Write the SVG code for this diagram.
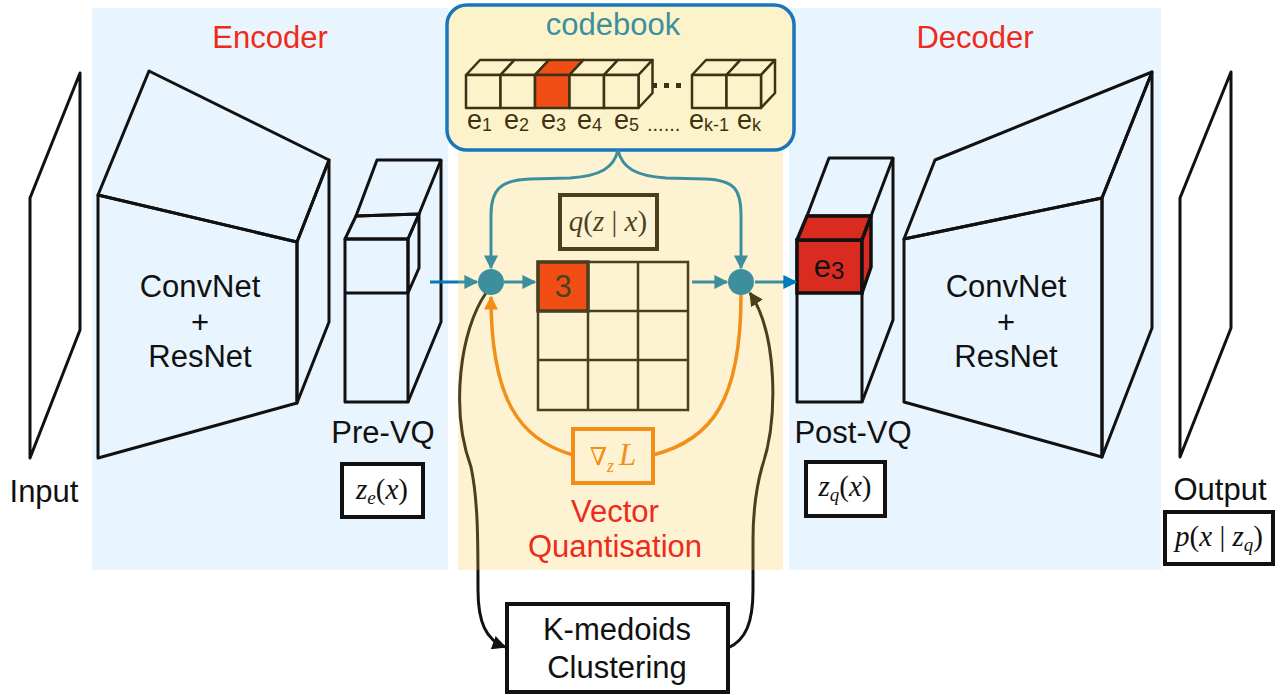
<svg xmlns="http://www.w3.org/2000/svg" width="1284" height="695" viewBox="0 0 1284 695">
<style>
.lbl{font-family:"Liberation Sans",Arial,sans-serif;font-size:31px;fill:#111;text-anchor:middle}
.red{fill:#ee2a1b}
.math{font-family:"Liberation Serif","DejaVu Serif",serif;font-size:29px;fill:#111;text-anchor:middle}
.it{font-style:italic}
.ln{fill:none;stroke:#111;stroke-width:3;stroke-linejoin:round}
.box{fill:#fff;stroke:#111;stroke-width:4}
.cb{fill:#fdf3cb;stroke:#3d3314;stroke-width:2.5;stroke-linejoin:round}
.sub{font-family:"Liberation Sans",Arial,sans-serif;fill:#3d3314}
</style>
<defs>
<marker id="mt" viewBox="0 0 10 10" refX="9" refY="5" markerWidth="14" markerHeight="14" markerUnits="userSpaceOnUse" orient="auto"><path d="M0,0 L10,5 L0,10 z" fill="#007ab8"/></marker>
<marker id="mo" viewBox="0 0 10 10" refX="9" refY="5" markerWidth="14" markerHeight="14" markerUnits="userSpaceOnUse" orient="auto"><path d="M0,0 L10,5 L0,10 z" fill="#f27904"/></marker>
<marker id="mk" viewBox="0 0 10 10" refX="9" refY="5" markerWidth="14" markerHeight="14" markerUnits="userSpaceOnUse" orient="auto"><path d="M0,0 L10,5 L0,10 z" fill="#111"/></marker>
</defs>
<rect width="1284" height="695" fill="#fff"/>
<!-- panels -->
<rect x="92" y="8" width="356" height="562" fill="#e9f5fe"/>
<rect x="789" y="8" width="372" height="562" fill="#e9f5fe"/>

<g id="input">
<polygon class="ln" fill="#fff" points="30,198 80,73 80,330 30,458"/>
<text class="lbl" x="44" y="502">Input</text>
</g>
<g id="encoder">
<polygon class="ln" points="98,195 297,242 297,403 98,458"/>
<polygon class="ln" points="98,195 149,71 329,160 297,242"/>
<polygon class="ln" points="297,242 329,160 329,322 297,403"/>
<text class="lbl" x="200" y="297">ConvNet</text>
<text class="lbl" x="200" y="333" font-size="28">+</text>
<text class="lbl" x="200" y="367">ResNet</text>
</g>
<g id="prevq">
<rect class="ln" x="345" y="239" width="63" height="163"/>
<line class="ln" x1="345" y1="293" x2="408" y2="293"/>
<polygon class="ln" points="345,239 356,216 419,214 408,239"/>
<polygon class="ln" points="356,216 377,160 441,160 419,214"/>
<polygon class="ln" points="408,239 419,214 419,268 408,293"/>
<polyline class="ln" points="441,160 441,322 408,402"/>
<text class="lbl" x="383" y="443">Pre-VQ</text>
<rect class="box" x="342" y="464" width="81" height="53"/>
<text class="math" x="382" y="499"><tspan class="it">z</tspan><tspan class="it" font-size="19" dy="5">e</tspan><tspan dy="-5">(</tspan><tspan class="it">x</tspan>)</text>
</g>
<g id="postvq">
<rect class="ln" x="797" y="240" width="65" height="162"/>
<polygon class="ln" points="807,216 829,158 893,158 871,216"/>
<polyline class="ln" points="893,158 893,320 862,402"/>
<rect x="797" y="240" width="65" height="53" fill="#d92b1f" stroke="#111" stroke-width="3.5"/>
<polygon points="797,240 807,216 871,216 862,240" fill="#d92b1f" stroke="#111" stroke-width="3.5" stroke-linejoin="round"/>
<polygon points="862,240 871,216 871,267 862,293" fill="#d92b1f" stroke="#111" stroke-width="3.5" stroke-linejoin="round"/>
<text class="lbl" x="829" y="277" font-size="35">e<tspan font-size="24" dy="2">3</tspan></text>
<text class="lbl" x="853" y="443">Post-VQ</text>
<rect class="box" x="806" y="462" width="79" height="54"/>
<text class="math" x="845" y="496"><tspan class="it">z</tspan><tspan class="it" font-size="19" dy="5">q</tspan><tspan dy="-5">(</tspan><tspan class="it">x</tspan>)</text>
</g>
<g id="decoder">
<polygon class="ln" points="904,239 1102,198 1102,457 904,402"/>
<polygon class="ln" points="904,239 935,160 1152,72 1102,198"/>
<polygon class="ln" points="1102,198 1152,72 1152,328 1102,457"/>
<text class="lbl" x="1006" y="297">ConvNet</text>
<text class="lbl" x="1006" y="333" font-size="28">+</text>
<text class="lbl" x="1006" y="367">ResNet</text>
</g>
<g id="output">
<polygon class="ln" fill="#fff" points="1180,198 1231,72 1231,328 1180,457"/>
<text class="lbl" x="1220" y="500">Output</text>
<rect class="box" x="1165" y="512" width="108" height="52"/>
<text class="math" x="1219" y="546"><tspan class="it">p</tspan>(<tspan class="it">x</tspan> | <tspan class="it">z</tspan><tspan class="it" font-size="19" dy="5">q</tspan><tspan dy="-5">)</tspan></text>
</g>

<!-- VQ contents drawn under the translucent yellow panel -->
<g id="grid">
<rect x="538" y="262" width="50" height="49" fill="#ee2300"/>
<g fill="none" stroke="#111" stroke-width="2.5">
<rect x="538" y="262" width="150" height="148"/>
<line x1="588" y1="262" x2="588" y2="410"/>
<line x1="638" y1="262" x2="638" y2="410"/>
<line x1="538" y1="311" x2="688" y2="311"/>
<line x1="538" y1="360" x2="688" y2="360"/>
</g>
<rect x="538" y="262" width="50" height="49" fill="none" stroke="#111" stroke-width="3.5"/>
<text class="lbl" x="563" y="297" font-size="29">3</text>
</g>
<g id="qzx">
<rect x="560" y="195" width="97" height="54" fill="none" stroke="#111" stroke-width="4"/>
<text class="math" x="608" y="231"><tspan class="it">q</tspan>(<tspan class="it">z</tspan> | <tspan class="it">x</tspan>)</text>
</g>
<g id="gradL">
<rect x="573" y="429" width="80" height="54" fill="none" stroke="#f27904" stroke-width="4"/>
<text class="math" x="613" y="465" style="fill:#f27904"><tspan font-size="25">∇</tspan><tspan class="it" font-size="18" dy="7">z</tspan><tspan class="it" dy="-7" dx="5" font-size="31">L</tspan></text>
</g>
<g id="connectors">
<path d="M430,282 L477,282" stroke="#007ab8" stroke-width="3" fill="none" marker-end="url(#mt)"/>
<path d="M504,282 L535,282" stroke="#007ab8" stroke-width="3" fill="none" marker-end="url(#mt)"/>
<path d="M692,282 L727,282" stroke="#007ab8" stroke-width="3" fill="none" marker-end="url(#mt)"/>
<path d="M755,282 L796,282" stroke="#007ab8" stroke-width="3" fill="none" marker-end="url(#mt)"/>
<path d="M618,150 C614,168 600,176 570,178 L530,179 C500,180 491,190 491,215 L491,268" stroke="#007ab8" stroke-width="3" fill="none" marker-end="url(#mt)"/>
<path d="M618,150 C622,168 636,176 666,178 L705,179 C735,180 741,190 741,215 L741,268" stroke="#007ab8" stroke-width="3" fill="none" marker-end="url(#mt)"/>
<path d="M573,455 C520,440 491,400 491,297" stroke="#f27904" stroke-width="3.5" fill="none" marker-end="url(#mo)"/>
<path d="M653,455 C712,440 741,400 741,295" stroke="#f27904" stroke-width="3.5" fill="none"/>
<path d="M486,293 C460,330 450,410 471,467 C478,500 478,540 478,590 C478,622 486,640 505,647" stroke="#111" stroke-width="3" fill="none" marker-end="url(#mk)"/>
<path d="M728,648 C746,640 753,622 753,590 L753,540 C753,505 757,485 762,467 C778,420 778,335 750,293" stroke="#111" stroke-width="3" fill="none" marker-end="url(#mk)"/>
<circle cx="491" cy="282" r="13" fill="#007ab8"/>
<circle cx="741" cy="282" r="13" fill="#007ab8"/>
</g>
<!-- translucent yellow VQ panel -->
<rect x="458" y="8" width="325" height="562" fill="rgb(247,206,81)" fill-opacity="0.25"/>

<g id="codebook">
<rect x="447" y="5" width="347" height="145" rx="20" fill="#fdf3cb" stroke="#1a76bc" stroke-width="3.5"/>
<path d="M618,150 L618,153" stroke="#3d8f9e" stroke-width="3"/>
<text class="lbl" x="613" y="35" font-size="30" style="fill:#3d8f9e">codebook</text>
<g>
<polygon class="cb" points="466,75 480,60 514.5,60 500.5,75"/><polygon class="cb" points="500.5,75 514.5,60 514.5,93 500.5,108"/><rect class="cb" x="466" y="75" width="34.5" height="33"/>
<polygon class="cb" points="500.5,75 514.5,60 549,60 535,75"/><polygon class="cb" points="535,75 549,60 549,93 535,108"/><rect class="cb" x="500.5" y="75" width="34.5" height="33"/>
<polygon class="cb" points="535,75 549,60 583.5,60 569.5,75" style="fill:#f04e14"/><polygon class="cb" points="569.5,75 583.5,60 583.5,93 569.5,108"/><rect class="cb" x="535" y="75" width="34.5" height="33" style="fill:#f04e14"/>
<polygon class="cb" points="569.5,75 583.5,60 618,60 604,75"/><polygon class="cb" points="604,75 618,60 618,93 604,108"/><rect class="cb" x="569.5" y="75" width="34.5" height="33"/>
<polygon class="cb" points="604,75 618,60 652.5,60 638.5,75"/><polygon class="cb" points="638.5,75 652.5,60 652.5,93 638.5,108"/><rect class="cb" x="604" y="75" width="34.5" height="33"/>
<rect x="652" y="83" width="5" height="5" fill="#3d3314"/><rect x="664" y="83" width="5" height="5" fill="#3d3314"/><rect x="676" y="83" width="5" height="5" fill="#3d3314"/>
<polygon class="cb" points="692,75 706,60 740.5,60 726.5,75"/><polygon class="cb" points="726.5,75 740.5,60 740.5,93 726.5,108"/><rect class="cb" x="692" y="75" width="34.5" height="33"/>
<polygon class="cb" points="726.5,75 740.5,60 775,60 761,75"/><polygon class="cb" points="761,75 775,60 775,93 761,108"/><rect class="cb" x="726.5" y="75" width="34.5" height="33"/>
</g>
<g class="sub" font-size="27">
<text x="467" y="129">e<tspan font-size="18" dy="2">1</tspan></text>
<text x="504" y="129">e<tspan font-size="18" dy="2">2</tspan></text>
<text x="541" y="129">e<tspan font-size="18" dy="2">3</tspan></text>
<text x="577" y="129">e<tspan font-size="18" dy="2">4</tspan></text>
<text x="614" y="129">e<tspan font-size="18" dy="2">5</tspan></text>
<text x="647" y="131" font-size="20">......</text>
<text x="689" y="129">e<tspan font-size="18" dy="2">k-1</tspan></text>
<text x="737" y="129">e<tspan font-size="18" dy="2">k</tspan></text>
</g>
</g>

<g id="kmedoids">
<rect class="box" x="507" y="604" width="221" height="88"/>
<text class="lbl" x="617" y="640">K-medoids</text>
<text class="lbl" x="617" y="678">Clustering</text>
</g>
<g id="titles">
<text class="lbl red" x="270" y="48">Encoder</text>
<text class="lbl red" x="975" y="48">Decoder</text>
<text class="lbl red" x="615" y="522">Vector</text>
<text class="lbl red" x="615" y="557">Quantisation</text>
</g>
</svg>
